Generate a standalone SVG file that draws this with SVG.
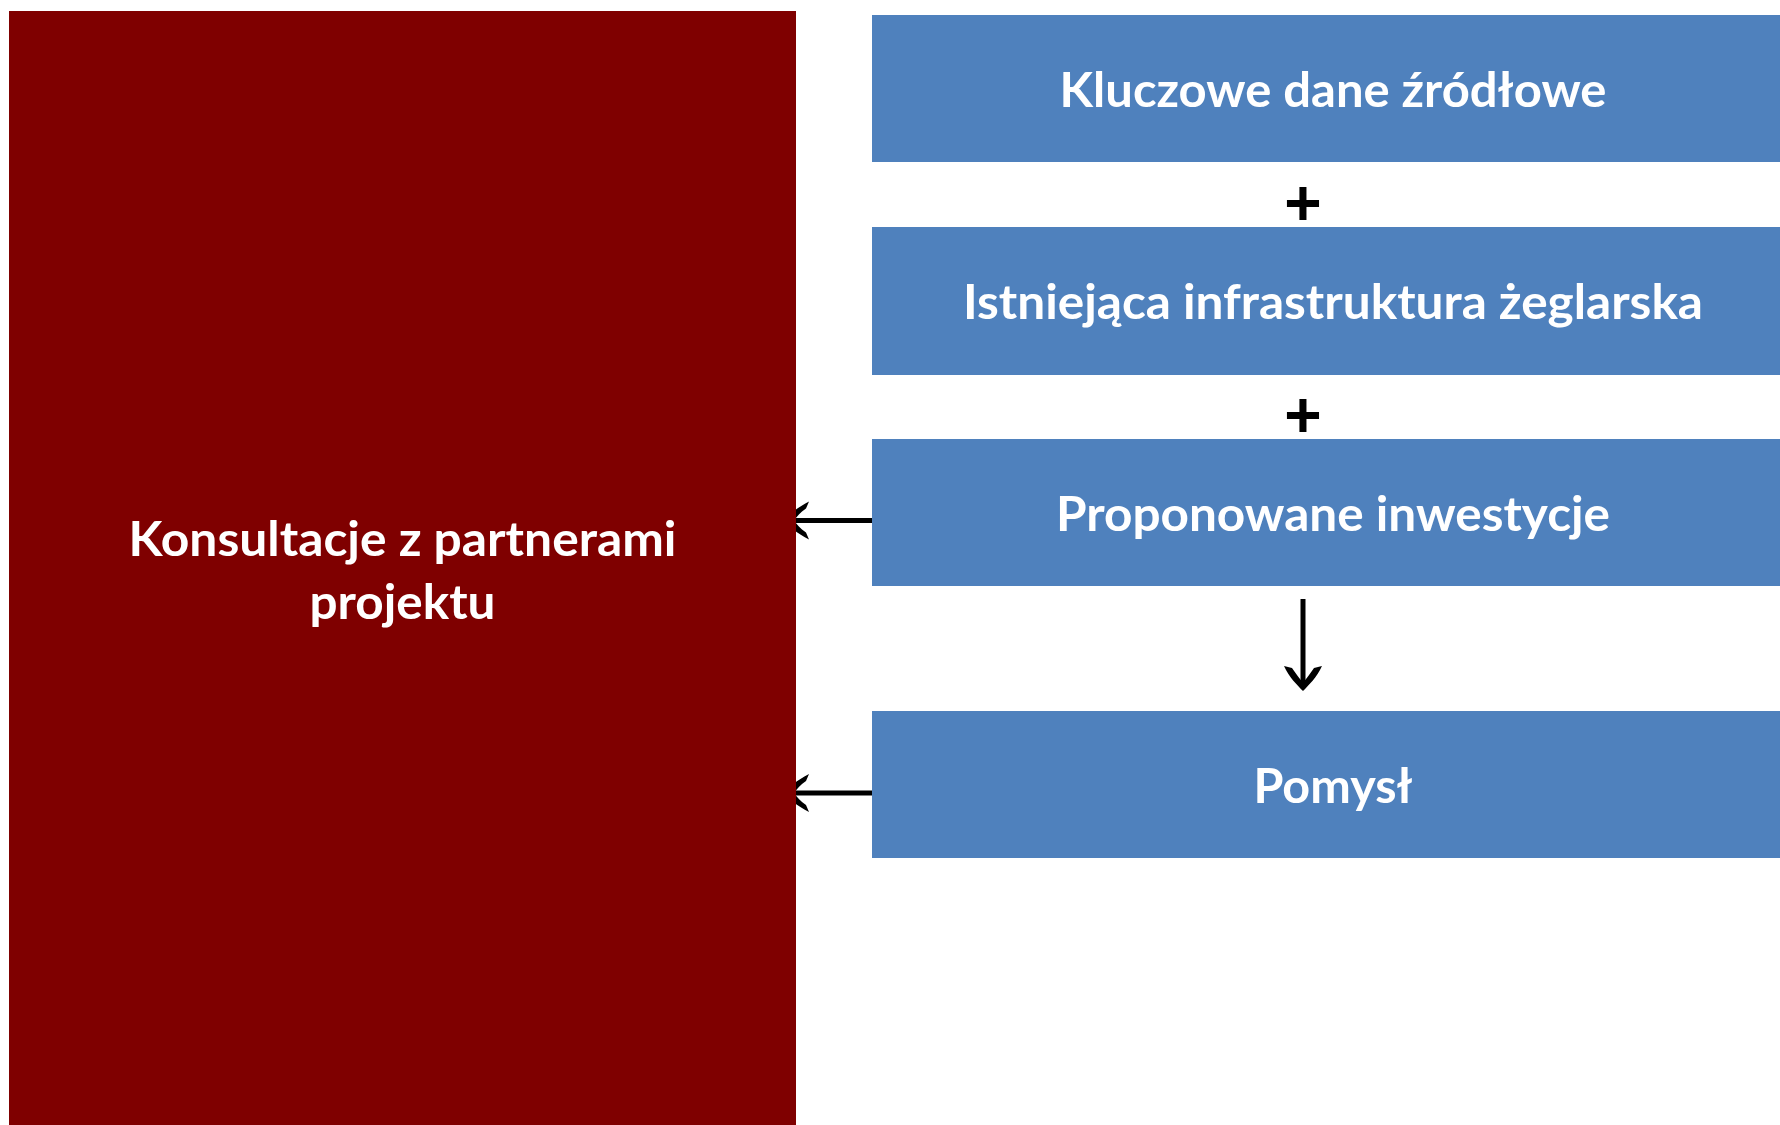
<svg xmlns="http://www.w3.org/2000/svg" width="1780" height="1125" viewBox="0 0 1780 1125">
<style>
.bg{fill:#ffffff}
.red{fill:#7f0000}
.blue{fill:#4f81bd}
.lbl{font-family:Lato,"Open Sans","Liberation Sans",sans-serif;font-weight:bold;font-size:48px;fill:#ffffff;text-anchor:middle}
.plus{font-family:"Liberation Sans",Arial,sans-serif;font-weight:bold;font-size:64px;fill:#000000;text-anchor:middle}
.conn{stroke:#000000;stroke-width:5;fill:none}
</style>
<defs>
<marker id="head" viewBox="-27 -21 32 42" refX="-5" refY="0" markerWidth="32" markerHeight="42" markerUnits="userSpaceOnUse" orient="auto">
<path d="M0 0 C-6 -6 -14 -14 -25 -19 L-23 -11 C-17 -7 -12 -3 -8 0 C-12 3 -17 7 -23 11 L-25 19 C-14 14 -6 6 0 0 Z" fill="#000000"/>
</marker>
<marker id="headL" viewBox="-27 -21 32 42" refX="-5" refY="0" markerWidth="32" markerHeight="42" markerUnits="userSpaceOnUse" orient="auto">
<path d="M0 0 C-6 -7 -12 -12 -25 -19 L-22 -12 C-16 -8 -13 -4 -10 0 C-13 4 -16 8 -22 12 L-25 19 C-12 12 -6 7 0 0 Z" fill="#000000"/>
</marker>
</defs>
<rect class="bg" x="0" y="0" width="1780" height="1125"/>
<g id="connectors">
<line class="conn" x1="872" y1="520.5" x2="789" y2="520.5" marker-end="url(#headL)"/>
<line class="conn" x1="872" y1="793" x2="789" y2="793" marker-end="url(#headL)"/>
<line class="conn" x1="1303" y1="599" x2="1303" y2="686" marker-end="url(#head)"/>
</g>
<g id="node-konsultacje">
<rect class="red" x="9" y="11" width="787" height="1114"/>
<text class="lbl" x="402.5" y="556" textLength="548" lengthAdjust="spacingAndGlyphs">Konsultacje z partnerami</text>
<text class="lbl" x="402.5" y="619" textLength="186" lengthAdjust="spacingAndGlyphs">projektu</text>
</g>
<g id="node-kluczowe">
<rect class="blue" x="872" y="15" width="908" height="147"/>
<text class="lbl" x="1333" y="107" textLength="547" lengthAdjust="spacingAndGlyphs">Kluczowe dane źródłowe</text>
</g>
<g id="plus-1">
<text class="plus" x="1303" y="225">+</text>
</g>
<g id="node-istniejaca">
<rect class="blue" x="872" y="227" width="908" height="148"/>
<text class="lbl" x="1333" y="319" textLength="740" lengthAdjust="spacingAndGlyphs">Istniejąca infrastruktura żeglarska</text>
</g>
<g id="plus-2">
<text class="plus" x="1303" y="437">+</text>
</g>
<g id="node-proponowane">
<rect class="blue" x="872" y="439" width="908" height="147"/>
<text class="lbl" x="1333" y="530.5" textLength="554" lengthAdjust="spacingAndGlyphs">Proponowane inwestycje</text>
</g>
<g id="node-pomysl">
<rect class="blue" x="872" y="711" width="908" height="147"/>
<text class="lbl" x="1333" y="802.5" textLength="159" lengthAdjust="spacingAndGlyphs">Pomysł</text>
</g>
</svg>
